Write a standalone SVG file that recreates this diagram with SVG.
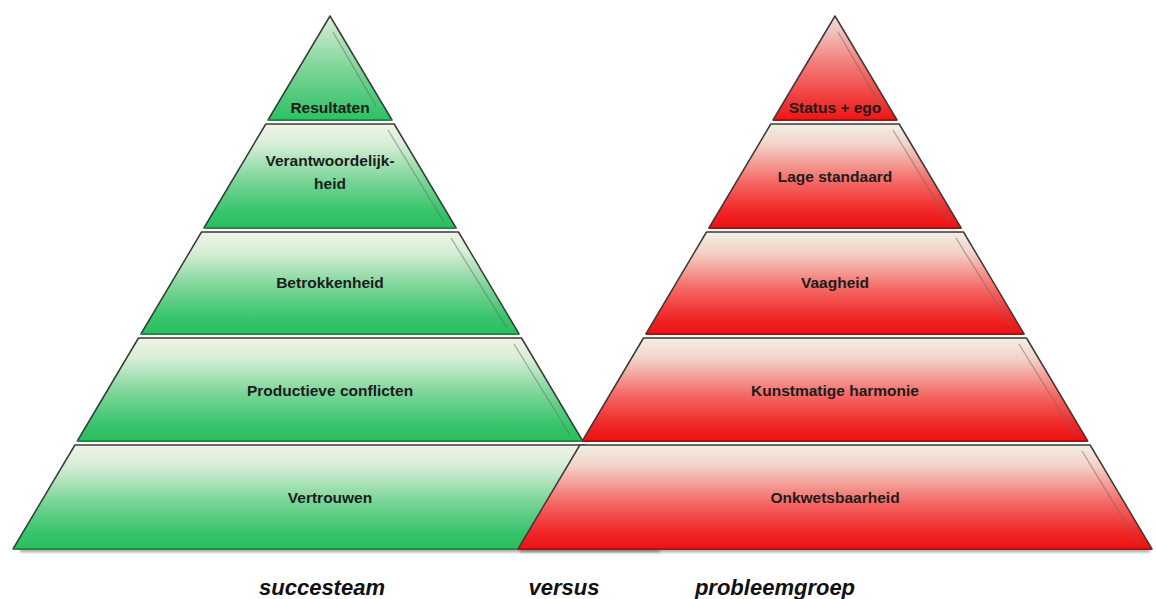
<svg xmlns="http://www.w3.org/2000/svg" width="1156" height="599" viewBox="0 0 1156 599">
  <defs>
    <linearGradient id="gBand" x1="0" y1="0" x2="0" y2="1">
      <stop offset="0" stop-color="#f1f3e6"/>
      <stop offset="0.2" stop-color="#d6eed6"/>
      <stop offset="0.55" stop-color="#78d496"/>
      <stop offset="0.85" stop-color="#36c46b"/>
      <stop offset="1" stop-color="#2bbd60"/>
    </linearGradient>
    <linearGradient id="gTop" x1="0" y1="0" x2="0" y2="1">
      <stop offset="0" stop-color="#dcefd8"/>
      <stop offset="0.45" stop-color="#86d79e"/>
      <stop offset="1" stop-color="#2cc163"/>
    </linearGradient>
    <linearGradient id="rBand" x1="0" y1="0" x2="0" y2="1">
      <stop offset="0" stop-color="#f1f0e3"/>
      <stop offset="0.2" stop-color="#f3d2c8"/>
      <stop offset="0.55" stop-color="#f46a66"/>
      <stop offset="0.85" stop-color="#f02525"/>
      <stop offset="1" stop-color="#ec1212"/>
    </linearGradient>
    <linearGradient id="rTop" x1="0" y1="0" x2="0" y2="1">
      <stop offset="0" stop-color="#f0e2da"/>
      <stop offset="0.45" stop-color="#f37e7a"/>
      <stop offset="1" stop-color="#ee1515"/>
    </linearGradient>
    <filter id="blur" x="-10%" y="-200%" width="120%" height="500%">
      <feGaussianBlur stdDeviation="1.5"/>
    </filter>
  </defs>
  <style>
    .edge { stroke: #3a3a3a; stroke-width: 1.5; stroke-linejoin: round; }
    .gb { stroke: #1d8f45; stroke-width: 2; }
    .rb { stroke: #b01010; stroke-width: 2; }
    .shine { stroke: #6a6a6a; stroke-opacity: 0.55; stroke-width: 1.2; fill: none; }
    .lbl { font-family: "Liberation Sans", Arial, sans-serif; font-weight: bold; font-size: 15.5px; fill: #1c1c1c; text-anchor: middle; }
    .cap { font-family: "Liberation Sans", Arial, sans-serif; font-weight: bold; font-style: italic; font-size: 22px; fill: #111; text-anchor: middle; }
  </style>

  <!-- shadow under bases -->
  <rect x="20" y="549" width="640" height="3" fill="#555" opacity="0.6" filter="url(#blur)"/>
  <rect x="520" y="549" width="630" height="3" fill="#555" opacity="0.6" filter="url(#blur)"/>

  <!-- green pyramid -->
  <g id="green-pyramid" transform="translate(330,0)">
    <g id="g-resultaten">
      <polygon points="0,16 62,120 -62,120" fill="url(#gTop)" class="edge"/>
      <line x1="-62" y1="120" x2="62" y2="120" class="gb"/>
      <line x1="3" y1="32" x2="46" y2="106" class="shine"/>
      <text x="0" y="113" class="lbl">Resultaten</text>
    </g>
    <g id="g-verantwoordelijkheid">
      <polygon points="-64.2,124 64.2,124 126.1,228 -126.1,228" fill="url(#gBand)" class="edge"/>
      <line x1="-126.1" y1="228" x2="126.1" y2="228" class="gb"/>
      <line x1="58" y1="130" x2="114" y2="222" class="shine"/>
      <text x="0" y="166" class="lbl">Verantwoordelijk-</text>
      <text x="0" y="189" class="lbl">heid</text>
    </g>
    <g id="g-betrokkenheid">
      <polygon points="-128.5,232 128.5,232 189.1,334 -189.1,334" fill="url(#gBand)" class="edge"/>
      <line x1="-189.1" y1="334" x2="189.1" y2="334" class="gb"/>
      <line x1="121" y1="238" x2="177" y2="328" class="shine"/>
      <text x="0" y="288" class="lbl">Betrokkenheid</text>
    </g>
    <g id="g-productieve-conflicten">
      <polygon points="-191.5,338 191.5,338 252.7,441 -252.7,441" fill="url(#gBand)" class="edge"/>
      <line x1="-252.7" y1="441" x2="252.7" y2="441" class="gb"/>
      <line x1="184" y1="344" x2="240" y2="435" class="shine"/>
      <text x="0" y="396" class="lbl">Productieve conflicten</text>
    </g>
    <g id="g-vertrouwen">
      <polygon points="-255.1,445 255.1,445 317,549 -317,549" fill="url(#gBand)" class="edge"/>
      <line x1="-317" y1="549" x2="317" y2="549" class="gb"/>
      <text x="0" y="503" class="lbl">Vertrouwen</text>
    </g>
  </g>

  <!-- red pyramid -->
  <g id="red-pyramid" transform="translate(835,0)">
    <g id="r-status-ego">
      <polygon points="0,16 62,120 -62,120" fill="url(#rTop)" class="edge"/>
      <line x1="-62" y1="120" x2="62" y2="120" class="rb"/>
      <line x1="3" y1="32" x2="46" y2="106" class="shine"/>
      <text x="0" y="113" class="lbl">Status + ego</text>
    </g>
    <g id="r-lage-standaard">
      <polygon points="-64.2,124 64.2,124 126.1,228 -126.1,228" fill="url(#rBand)" class="edge"/>
      <line x1="-126.1" y1="228" x2="126.1" y2="228" class="rb"/>
      <line x1="58" y1="130" x2="114" y2="222" class="shine"/>
      <text x="0" y="182" class="lbl">Lage standaard</text>
    </g>
    <g id="r-vaagheid">
      <polygon points="-128.5,232 128.5,232 189.1,334 -189.1,334" fill="url(#rBand)" class="edge"/>
      <line x1="-189.1" y1="334" x2="189.1" y2="334" class="rb"/>
      <line x1="121" y1="238" x2="177" y2="328" class="shine"/>
      <text x="0" y="288" class="lbl">Vaagheid</text>
    </g>
    <g id="r-kunstmatige-harmonie">
      <polygon points="-191.5,338 191.5,338 252.7,441 -252.7,441" fill="url(#rBand)" class="edge"/>
      <line x1="-252.7" y1="441" x2="252.7" y2="441" class="rb"/>
      <line x1="184" y1="344" x2="240" y2="435" class="shine"/>
      <text x="0" y="396" class="lbl">Kunstmatige harmonie</text>
    </g>
    <g id="r-onkwetsbaarheid">
      <polygon points="-255.1,445 255.1,445 317,549 -317,549" fill="url(#rBand)" class="edge"/>
      <line x1="-317" y1="549" x2="317" y2="549" class="rb"/>
      <line x1="247" y1="451" x2="303" y2="543" class="shine"/>
      <text x="0" y="503" class="lbl">Onkwetsbaarheid</text>
    </g>
  </g>

  <g id="captions">
    <text x="322" y="595" class="cap">succesteam</text>
    <text x="564" y="595" class="cap">versus</text>
    <text x="775" y="595" class="cap">probleemgroep</text>
  </g>
</svg>
